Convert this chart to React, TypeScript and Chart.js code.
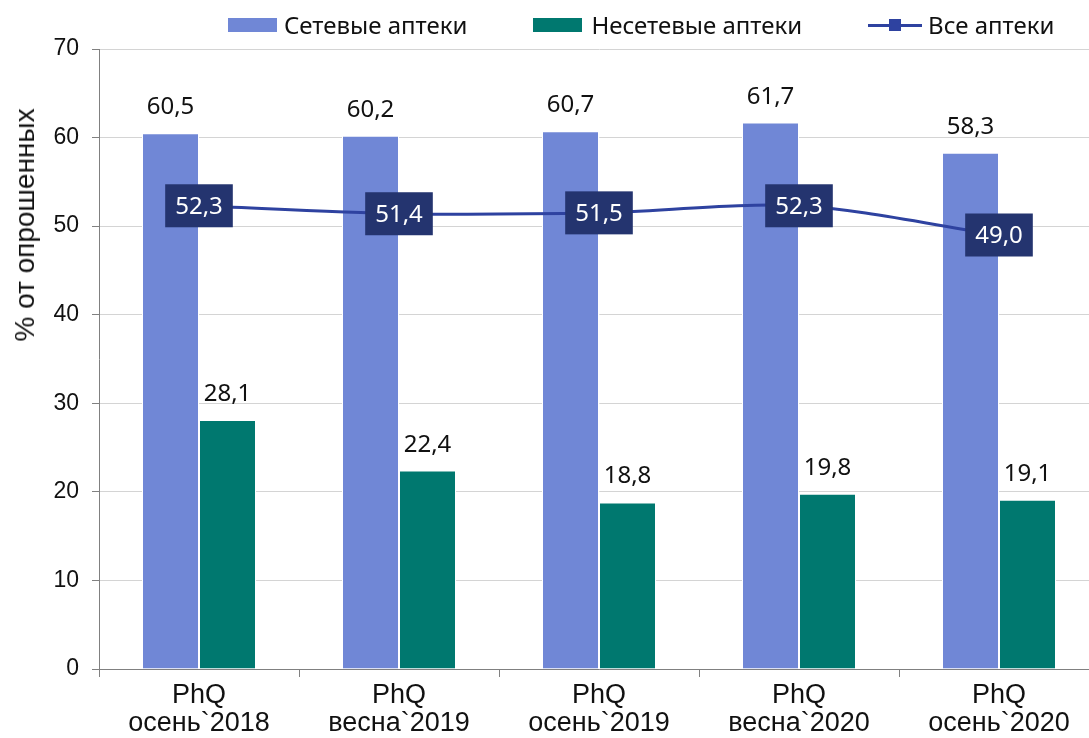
import React, { useEffect, useRef } from "react";
import { Chart, registerables } from "chart.js";

Chart.register(...registerables);

const categories: string[][] = [
  ["PhQ", "осень`2018"],
  ["PhQ", "весна`2019"],
  ["PhQ", "осень`2019"],
  ["PhQ", "весна`2020"],
  ["PhQ", "осень`2020"],
];
const seriesNames = ["Сетевые аптеки", "Несетевые аптеки", "Все аптеки"];
const chainValues = [60.5, 60.2, 60.7, 61.7, 58.3];
const nonChainValues = [28.1, 22.4, 18.8, 19.8, 19.1];
const allValues = [52.3, 51.4, 51.5, 52.3, 49.0];
const yMin = 0;
const yMax = 70;
const yStep = 10;
const yAxisTitle = "% от опрошенных";

const BLUE = "#7087D6";
const GREEN = "#00786F";
const LINE = "#2E42A0";
const BOX = "#24346F";

const fmt = (v: number) => v.toFixed(1).replace(".", ",");

const valueLabels = {
  id: "valueLabels",
  afterDatasetsDraw(chart: any) {
    const ctx = chart.ctx;
    ctx.save();
    chart.data.datasets.forEach((ds: any, di: number) => {
      const meta = chart.getDatasetMeta(di);
      meta.data.forEach((el: any, i: number) => {
        const txt = fmt(ds.data[i]);
        ctx.font = '24px "Noto Sans"';
        ctx.textAlign = "center";
        if (meta.type === "bar") {
          ctx.fillStyle = "#111111";
          ctx.textBaseline = "alphabetic";
          ctx.fillText(txt, el.x, el.y - 19);
        } else {
          const w = ctx.measureText(txt).width + 20;
          const h = 43;
          ctx.fillStyle = BOX;
          ctx.fillRect(el.x - w / 2, el.y - h / 2, w, h);
          ctx.fillStyle = "#ffffff";
          ctx.textBaseline = "middle";
          ctx.fillText(txt, el.x, el.y + 1);
        }
      });
    });
    ctx.restore();
  },
};

export default function App() {
  const ref = useRef<HTMLCanvasElement | null>(null);

  useEffect(() => {
    if (!ref.current) return;
    const chart = new Chart(ref.current, {
      type: "bar",
      data: {
        labels: categories,
        datasets: [
          {
            type: "bar",
            label: seriesNames[0],
            data: chainValues,
            backgroundColor: BLUE,
            borderColor: "#ffffff",
            borderWidth: 1,
            categoryPercentage: 0.57,
            barPercentage: 1,
            order: 2,
          },
          {
            type: "bar",
            label: seriesNames[1],
            data: nonChainValues,
            backgroundColor: GREEN,
            borderColor: "#ffffff",
            borderWidth: 1,
            categoryPercentage: 0.57,
            barPercentage: 1,
            order: 2,
          },
          {
            type: "line",
            label: seriesNames[2],
            data: allValues,
            borderColor: LINE,
            backgroundColor: LINE,
            borderWidth: 3,
            pointStyle: "rect",
            pointRadius: 6,
            tension: 0.3,
            order: 1,
          } as any,
        ],
      },
      options: {
        responsive: false,
        animation: false,
        layout: { autoPadding: false, padding: { top: 49, left: 0, right: 1, bottom: 0 } },
        plugins: {
          legend: { display: false },
          tooltip: { enabled: false },
        },
        scales: {
          x: {
            offset: true,
            grid: {
              display: true,
              drawOnChartArea: false,
              drawTicks: true,
              tickLength: 8,
              tickColor: "#808080",
              offset: true,
            },
            border: { display: true, color: "#808080", width: 1 },
            ticks: {
              color: "#111111",
              font: { family: '"Liberation Sans", Arial, sans-serif', size: 27, lineHeight: 1.05 },
              padding: 4,
              maxRotation: 0,
              autoSkip: false,
            },
            afterFit: (scale: any) => {
              scale.height = 69;
            },
          },
          y: {
            min: yMin,
            max: yMax,
            ticks: {
              stepSize: yStep,
              color: "#111111",
              font: { family: '"Liberation Sans", Arial, sans-serif', size: 23 },
              padding: 13,
            },
            grid: {
              color: "#d4d4d4",
              lineWidth: 1,
              tickLength: 7,
              tickColor: "#808080",
            },
            border: { display: true, color: "#808080", width: 1 },
            afterFit: (scale: any) => {
              scale.width = 99;
            },
          },
        },
      } as any,
      plugins: [valueLabels],
    });
    return () => chart.destroy();
  }, []);

  const textStyle: React.CSSProperties = {
    fontFamily: '"Noto Sans", sans-serif',
    fontSize: 24,
    color: "#111111",
    whiteSpace: "nowrap",
    lineHeight: "28px",
  };

  return (
    <div
      style={{
        position: "fixed",
        left: 0,
        top: 0,
        width: 1089,
        height: 738,
        overflow: "hidden",
        background: "#ffffff",
      }}
    >
      <canvas ref={ref} width={1100} height={738} style={{ width: 1100, height: 738, display: "block" }} />
      <div
        style={{
          position: "absolute",
          left: 25,
          top: 225,
          transform: "translate(-50%, -50%) rotate(-90deg)",
          fontFamily: '"Liberation Sans", Arial, sans-serif',
          fontSize: 28,
          color: "#111111",
          whiteSpace: "nowrap",
        }}
      >
        {yAxisTitle}
      </div>
      <div
        style={{
          position: "absolute",
          left: 228,
          top: 11,
          display: "flex",
          alignItems: "center",
          gap: 66,
        }}
      >
        <div style={{ display: "flex", alignItems: "center", gap: 7 }}>
          <div style={{ width: 49, height: 14, background: BLUE }} />
          <span style={textStyle}>{seriesNames[0]}</span>
        </div>
        <div style={{ display: "flex", alignItems: "center", gap: 9 }}>
          <div style={{ width: 49, height: 14, background: GREEN }} />
          <span style={textStyle}>{seriesNames[1]}</span>
        </div>
        <div style={{ display: "flex", alignItems: "center", gap: 6 }}>
          <div style={{ position: "relative", width: 54, height: 14 }}>
            <div style={{ position: "absolute", left: 0, right: 0, top: 5.5, height: 3, background: LINE }} />
            <div style={{ position: "absolute", left: 21, top: 1, width: 12, height: 12, background: LINE }} />
          </div>
          <span style={textStyle}>{seriesNames[2]}</span>
        </div>
      </div>
    </div>
  );
}
